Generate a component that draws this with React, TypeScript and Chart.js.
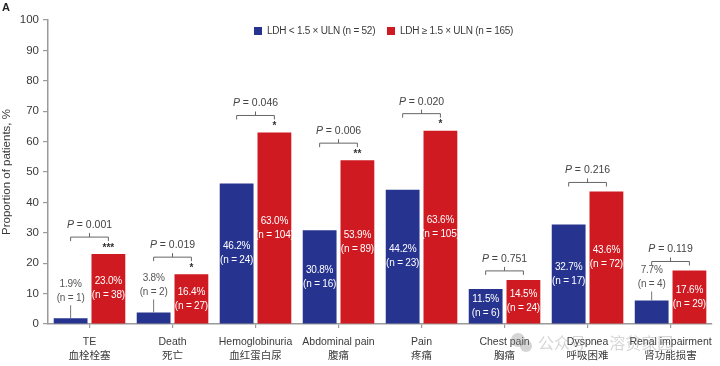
import React, { useEffect, useRef } from "react";
import { Chart, registerables } from "chart.js";

Chart.register(...registerables);

const categoriesEn = ["TE", "Death", "Hemoglobinuria", "Abdominal pain", "Pain", "Chest pain", "Dyspnea", "Renal impairment"];
const categoriesZh = ["血栓栓塞", "死亡", "血红蛋白尿", "腹痛", "疼痛", "胸痛", "呼吸困难", "肾功能损害"];
const lowPct = [1.9, 3.8, 46.2, 30.8, 44.2, 11.5, 32.7, 7.7];
const lowN = [1, 2, 24, 16, 23, 6, 17, 4];
const highPct = [23.0, 16.4, 63.0, 53.9, 63.6, 14.5, 43.6, 17.6];
const highN = [38, 27, 104, 89, 105, 24, 72, 29];
const pValues = ["0.001", "0.019", "0.046", "0.006", "0.020", "0.751", "0.216", "0.119"];
const stars = ["***", "*", "*", "**", "*", "", "", ""];
const seriesNames = ["LDH < 1.5 × ULN (n = 52)", "LDH ≥ 1.5 × ULN (n = 165)"];
const yTicks = [0, 10, 20, 30, 40, 50, 60, 70, 80, 90, 100];

const BLUE = "#26348f";
const RED = "#cf1a21";
const FONT = "'Liberation Sans', 'Noto Sans CJK SC', sans-serif";
const TEXT = "#3a3a3a";
const AXIS = "#9a9a9a";

const overlay = {
  id: "overlay",
  afterDatasetsDraw(chart: any) {
    const ctx = chart.ctx;
    const m0 = chart.getDatasetMeta(0).data;
    const m1 = chart.getDatasetMeta(1).data;
    const n0 = [lowN, highN];
    const pcts = [lowPct, highPct];
    const bracketY = m0.map((b0: any, i: number) =>
      Math.min(b0.y, m1[i].y) - (stars[i] !== "" ? 17 : 9)
    );
    ctx.save();
    // value labels
    [m0, m1].forEach((bars: any[], di: number) => {
      bars.forEach((bar: any, i: number) => {
        const v = pcts[di][i];
        const l1 = v.toFixed(1) + "%";
        const l2 = "(n = " + n0[di][i] + ")";
        ctx.font = "10px " + FONT;
        (ctx as any).letterSpacing = "-0.2px";
        ctx.textAlign = "center";
        ctx.textBaseline = "middle";
        if (v >= 10) {
          const mid = (bar.y + bar.base) / 2;
          ctx.fillStyle = "#ffffff";
          ctx.fillText(l1, bar.x, mid - 7);
          ctx.fillText(l2, bar.x, mid + 7);
        } else {
          const top = Math.min(bar.y - 5, Math.max(bar.y - 13, bracketY[i] + 30));
          ctx.strokeStyle = "#777";
          ctx.lineWidth = 1;
          ctx.beginPath();
          ctx.moveTo(bar.x, bar.y);
          ctx.lineTo(bar.x, top);
          ctx.stroke();
          ctx.fillStyle = "#555";
          ctx.fillText(l2, bar.x, top - 7);
          ctx.fillText(l1, bar.x, top - 21);
        }
      });
    });
    (ctx as any).letterSpacing = "0px";
    // brackets
    m0.forEach((b0: any, i: number) => {
      const b1 = m1[i];
      const hasStar = stars[i] !== "";
      const by = bracketY[i];
      const cx = (b0.x + b1.x) / 2;
      ctx.strokeStyle = "#666";
      ctx.lineWidth = 1;
      ctx.beginPath();
      ctx.moveTo(b0.x, by + 4);
      ctx.lineTo(b0.x, by);
      ctx.lineTo(b1.x, by);
      ctx.lineTo(b1.x, by + 4);
      ctx.moveTo(cx, by);
      ctx.lineTo(cx, by - 4);
      ctx.stroke();
      ctx.fillStyle = "#444";
      ctx.textBaseline = "middle";
      const rest = " = " + pValues[i];
      ctx.font = "italic 10.5px " + FONT;
      const wP = ctx.measureText("P").width;
      ctx.font = "10.5px " + FONT;
      const wR = ctx.measureText(rest).width;
      const sx = cx - (wP + wR) / 2;
      ctx.textAlign = "left";
      ctx.font = "italic 10.5px " + FONT;
      ctx.fillText("P", sx, by - 12);
      ctx.font = "10.5px " + FONT;
      ctx.fillText(rest, sx + wP, by - 12);
      if (hasStar) {
        ctx.textAlign = "center";
        ctx.font = "bold 10px " + FONT;
        ctx.fillStyle = "#333";
        ctx.fillText(stars[i], b1.x, b1.y - 6);
      }
    });
    // legend
    const colors = [BLUE, RED];
    const lx = [254, 387];
    const ly = 31;
    ctx.font = "10px " + FONT;
    (ctx as any).letterSpacing = "-0.25px";
    ctx.textAlign = "left";
    ctx.textBaseline = "middle";
    seriesNames.forEach((name, k) => {
      ctx.fillStyle = colors[k];
      ctx.fillRect(lx[k], ly - 4, 8, 8);
      ctx.fillStyle = TEXT;
      ctx.fillText(name, lx[k] + 13, ly + 0.5);
    });
    (ctx as any).letterSpacing = "0px";
    // panel letter
    ctx.font = "bold 11px " + FONT;
    ctx.fillStyle = "#222";
    ctx.textBaseline = "top";
    ctx.fillText("A", 2, 2);
    // watermark
    ctx.globalAlpha = 0.35;
    ctx.fillStyle = "#888";
    ctx.beginPath();
    ctx.arc(518, 340, 7, 0, Math.PI * 2);
    ctx.fill();
    ctx.beginPath();
    ctx.arc(526, 346, 6, 0, Math.PI * 2);
    ctx.fill();
    ctx.font = "16px 'Noto Sans CJK SC', sans-serif";
    ctx.textBaseline = "middle";
    ctx.fillText("公众号 · 溶贫家园", 538, 343);
    ctx.restore();
  },
};

export default function App() {
  const ref = useRef<HTMLCanvasElement>(null);
  useEffect(() => {
    document.body.style.margin = "0";
    const chart = new Chart(ref.current as HTMLCanvasElement, {
      type: "bar",
      data: {
        labels: categoriesEn.map((e, i) => [e, categoriesZh[i]]),
        datasets: [
          { label: seriesNames[0], data: lowPct, backgroundColor: BLUE, categoryPercentage: 0.91, barPercentage: 0.895 },
          { label: seriesNames[1], data: highPct, backgroundColor: RED, categoryPercentage: 0.91, barPercentage: 0.895 },
        ],
      },
      options: {
        responsive: false,
        animation: false,
        layout: { padding: { left: 0, right: 5, top: 20, bottom: 0 } },
        plugins: { legend: { display: false }, tooltip: { enabled: false } },
        scales: {
          x: {
            grid: { display: true, drawOnChartArea: false, offset: false, tickLength: 4, color: AXIS, lineWidth: 1.2 },
            border: { color: AXIS, width: 1.5 },
            ticks: { color: TEXT, font: { family: FONT, size: 10.5, lineHeight: 1.25 }, padding: 8, maxRotation: 0, autoSkip: false },
            afterFit: (s: any) => { s.height = 42; },
          },
          y: {
            min: 0,
            max: 100,
            afterBuildTicks: (s: any) => { s.ticks = yTicks.map((v) => ({ value: v })); },
            grid: { display: true, drawOnChartArea: false, tickLength: 5, color: AXIS, lineWidth: 1.2 },
            border: { color: AXIS, width: 1.5 },
            ticks: { color: TEXT, font: { family: FONT, size: 11.5 }, padding: 4 },
            title: { display: true, text: "Proportion of patients, %", color: TEXT, font: { family: FONT, size: 11.5 }, padding: { top: 0, bottom: 2 } },
            afterFit: (s: any) => { s.width = 48; },
          },
        },
      },
      plugins: [overlay],
    });
    return () => chart.destroy();
  }, []);
  return (
    <div style={{ position: "absolute", left: 0, top: 0, width: 720, height: 366, background: "#fff" }}>
      <canvas ref={ref} width={720} height={366} />
    </div>
  );
}
